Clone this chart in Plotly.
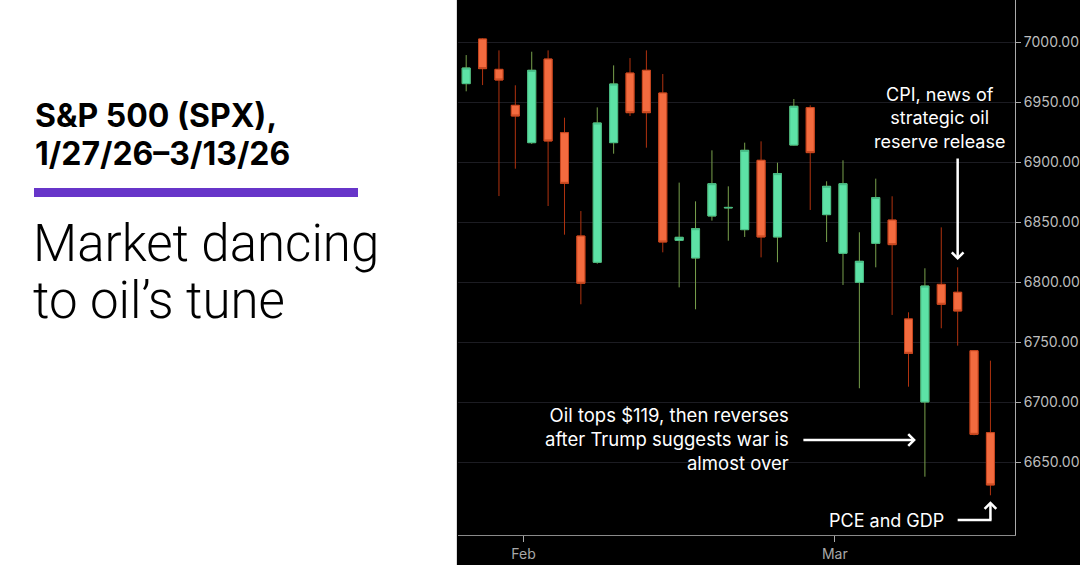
import plotly.graph_objects as go

# ---- data ----
dates = [
    "2026-01-27", "2026-01-28", "2026-01-29", "2026-01-30",
    "2026-02-02", "2026-02-03", "2026-02-04", "2026-02-05", "2026-02-06",
    "2026-02-09", "2026-02-10", "2026-02-11", "2026-02-12", "2026-02-13",
    "2026-02-17", "2026-02-18", "2026-02-19", "2026-02-20",
    "2026-02-23", "2026-02-24", "2026-02-25", "2026-02-26", "2026-02-27",
    "2026-03-02", "2026-03-03", "2026-03-04", "2026-03-05", "2026-03-06",
    "2026-03-09", "2026-03-10", "2026-03-11", "2026-03-12", "2026-03-13",
]
opens = [6965.6, 7002.8, 6977.5, 6947.5, 6916.4, 6986.1, 6924.7, 6838.6, 6816.7,
         6916.4, 6974.4, 6976.7, 6957.8, 6835.0, 6820.3, 6855.3, 6862.0, 6843.9,
         6901.7, 6837.8, 6914.4, 6945.6, 6856.4, 6824.2, 6800.0, 6832.5, 6851.9,
         6769.5, 6700.3, 6798.3, 6791.7, 6743.0, 6674.7]
highs = [6989.4, 7003.5, 6993.3, 6964.2, 6992.2, 6993.3, 6937.2, 6859.4, 6945.8,
         6980.8, 6986.9, 6993.3, 6973.6, 6883.1, 6867.5, 6910.0, 6880.0, 6916.4,
         6917.5, 6899.7, 6952.8, 6947.5, 6884.2, 6901.7, 6841.7, 6886.4, 6871.7,
         6775.0, 6811.7, 6845.8, 6812.5, 6743.5, 6734.7]
lows = [6959.2, 6964.4, 6871.9, 6894.7, 6915.3, 6863.6, 6839.7, 6781.7, 6815.5,
        6907.2, 6938.6, 6912.2, 6825.0, 6795.8, 6777.5, 6851.4, 6834.7, 6837.8,
        6820.8, 6816.7, 6914.0, 6860.3, 6833.6, 6797.8, 6711.7, 6812.5, 6772.8,
        6713.0, 6638.0, 6761.7, 6747.2, 6672.5, 6622.5]
closes = [6978.6, 6978.1, 6968.6, 6938.6, 6976.7, 6917.8, 6882.5, 6799.2, 6932.8,
          6965.3, 6941.4, 6941.4, 6833.6, 6837.5, 6844.7, 6882.2, 6862.4, 6910.0,
          6837.8, 6890.6, 6946.7, 6908.1, 6880.0, 6882.2, 6817.5, 6870.6, 6831.4,
          6740.8, 6796.9, 6781.7, 6776.1, 6673.3, 6631.1]
month_labels = ["Feb", "Mar"]
y_ticks = [6650, 6700, 6750, 6800, 6850, 6900, 6950, 7000]

# ---- derived ----
W, H = 1080, 565
x_idx = list(range(len(dates)))
body_hi = [max(o, c) for o, c in zip(opens, closes)]
body_lo = [min(o, c) for o, c in zip(opens, closes)]
# month boundaries: between last day of a month and first day of the next
tickvals = []
for i in range(1, len(dates)):
    if dates[i][5:7] != dates[i - 1][5:7]:
        tickvals.append(i - 0.5)

GREEN_FILL, GREEN_LINE, GREEN_WICK = "#5de2a6", "#45b985", "#78a04c"
RED_FILL, RED_LINE, RED_WICK = "#f36b3f", "#c4461f", "#b0320f"
FONT = "Inter"

fig = go.Figure()
# wicks
fig.add_trace(go.Candlestick(
    x=x_idx, open=opens, high=highs, low=lows, close=closes,
    increasing=dict(line=dict(color=GREEN_WICK, width=1), fillcolor=GREEN_FILL),
    decreasing=dict(line=dict(color=RED_WICK, width=1), fillcolor=RED_FILL),
    hovertext=dates, showlegend=False,
))
# bodies
fig.add_trace(go.Candlestick(
    x=x_idx, open=opens, high=body_hi, low=body_lo, close=closes,
    increasing=dict(line=dict(color=GREEN_LINE, width=1), fillcolor=GREEN_FILL),
    decreasing=dict(line=dict(color=RED_LINE, width=1), fillcolor=RED_FILL),
    hoverinfo="skip", showlegend=False,
))

px_left, px_right, px_bottom = 458, 1015, 535
plot_h = px_bottom


def py(y_px):
    return 1 - y_px / plot_h


def pxx(x_px):
    return x_px / W


shapes = [
    # white left panel
    dict(type="rect", xref="paper", yref="paper", x0=0, x1=pxx(457), y0=py(H), y1=1,
         fillcolor="white", line=dict(width=0), layer="above"),
    dict(type="line", xref="paper", yref="paper", x0=pxx(456.5), x1=pxx(456.5), y0=py(H), y1=1,
         line=dict(color="#dcdcdc", width=1), layer="above"),
    # purple rule
    dict(type="rect", xref="paper", yref="paper", x0=pxx(34), x1=pxx(358), y0=py(197), y1=py(188),
         fillcolor="#6735c9", line=dict(width=0), layer="above"),
    # PCE bent arrow horizontal leg
    dict(type="line", xref="x", yref="y", x0=30, x1=32.07, y0=6602, y1=6602,
         line=dict(color="white", width=2.5), layer="above"),
]

annotations = [
    dict(xref="paper", yref="paper", x=pxx(33), y=py(116), xanchor="left", yanchor="middle",
         text="<b>S&P 500 (SPX),</b>", showarrow=False,
         font=dict(family=FONT, size=32, color="black")),
    dict(xref="paper", yref="paper", x=pxx(33), y=py(153), xanchor="left", yanchor="middle",
         text="<b>1/27/26–3/13/26</b>", showarrow=False,
         font=dict(family=FONT, size=32, color="black")),
    dict(xref="paper", yref="paper", x=pxx(31), y=py(244), xanchor="left", yanchor="middle",
         text="Market dancing", showarrow=False,
         font=dict(family="Roboto", size=51, color="black", weight=300)),
    dict(xref="paper", yref="paper", x=pxx(31), y=py(300), xanchor="left", yanchor="middle",
         text="to oil’s tune", showarrow=False,
         font=dict(family="Roboto", size=51, color="black", weight=300)),
    # CPI
    dict(xref="paper", yref="paper", x=pxx(939), y=py(118), xanchor="center", yanchor="middle",
         text="CPI, news of<br>strategic oil<br>reserve release", align="center", showarrow=False,
         font=dict(family=FONT, size=18, color="white")),
    dict(xref="x", yref="y", x=30, y=highs[30] + 6, text="", showarrow=True,
         ax=0, ay=-103, arrowhead=4, arrowsize=0.9, arrowwidth=2.5, arrowcolor="white"),
    # Oil
    dict(xref="paper", yref="paper", x=pxx(791), y=py(439), xanchor="right", yanchor="middle",
         text="Oil tops $119, then reverses<br>after Trump suggests war is<br>almost over", align="right",
         showarrow=False, font=dict(family=FONT, size=18.5, color="white")),
    dict(xref="x", yref="y", x=27.45, y=6668.6, text="", showarrow=True,
         ax=-114, ay=0, arrowhead=4, arrowsize=0.9, arrowwidth=2.5, arrowcolor="white"),
    # PCE
    dict(xref="paper", yref="paper", x=pxx(946), y=py(520), xanchor="right", yanchor="middle",
         text="PCE and GDP", showarrow=False, font=dict(family=FONT, size=18, color="white")),
    dict(xref="x", yref="y", x=32, y=lows[32] - 5, text="", showarrow=True,
         axref="x", ayref="y", ax=32, ay=6601, arrowhead=4, arrowsize=0.9, arrowwidth=2.5,
         arrowcolor="white"),
]

fig.update_layout(
    width=W, height=H,
    margin=dict(l=0, r=0, t=0, b=H - px_bottom, pad=0),
    paper_bgcolor="black", plot_bgcolor="black",
    showlegend=False,
    shapes=shapes, annotations=annotations,
    xaxis=dict(
        domain=[px_left / W, px_right / W],
        range=[-0.5, len(dates) + 0.5],
        tickmode="array", tickvals=tickvals, ticktext=month_labels,
        ticks="outside", ticklen=6, tickcolor="#aaaaaa", tickwidth=1,
        showline=True, linecolor="#8a8a8a", linewidth=1,
        showgrid=False, zeroline=False,
        tickfont=dict(family=FONT, size=14, color="#a8a8a8"),
        rangeslider=dict(visible=False), fixedrange=True,
    ),
    yaxis=dict(
        side="right", range=[6589.4, 7035.3],
        tickmode="array", tickvals=y_ticks, tickformat=".2f",
        ticks="outside", ticklen=5, tickcolor="#aaaaaa", tickwidth=1,
        showline=True, linecolor="#aaaaaa", linewidth=1,
        showgrid=True, gridcolor="#1c1c22", gridwidth=1, zeroline=False,
        tickfont=dict(family=FONT, size=14, color="#bdbdbd"),
        fixedrange=True,
    ),
)

fig.write_html(
    "out.html",
    config={"displayModeBar": False},
    post_script="document.body.style.margin='0';document.body.style.overflow='hidden';",
)
